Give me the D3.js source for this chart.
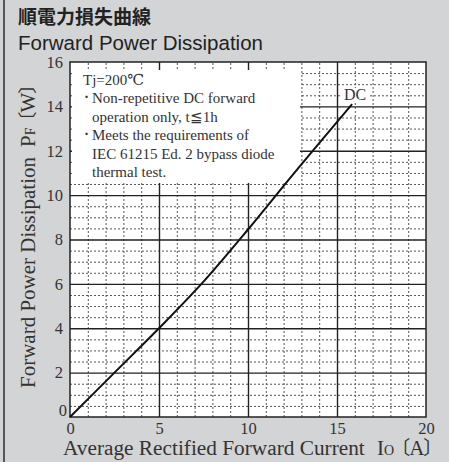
<!DOCTYPE html>
<html>
<head>
<meta charset="utf-8">
<script src="https://cdn.jsdelivr.net/npm/d3@7"></script>
<style>
  body { margin: 0; background: #d3d4d6; }
  svg { display: block; }
</style>
</head>
<body>
<div id="plot"></div>
<script>
// forward current Io [A] vs forward power dissipation PF [W], DC curve
var current = [0, 2.5, 5, 7.5, 10, 12.5, 15.85];
var power = [0, 2, 4, 6.1, 8.45, 10.9, 14.1];
var xTicks = [0, 5, 10, 15, 20];
var yTicks = [0, 2, 4, 6, 8, 10, 12, 14, 16];
var legendLines = ["Tj=200\u2103", "Non-repetitive DC forward", "operation only, t\u22661h", "Meets the requirements of", "IEC 61215 Ed. 2 bypass diode", "thermal test."];
var bullets = [false, true, false, true, false, false];

var w = 449, h = 462;
var padL = 70, padR = 426, padT = 62, padB = 417;
var serif = "'Liberation Serif', 'DejaVu Serif', serif";
var cjk = "'Noto Sans CJK JP', sans-serif";

var svg = d3.select("#plot")
    .append("svg")
    .attr("width", w)
    .attr("height", h);

svg.append("rect").attr("width", w).attr("height", h).attr("fill", "#d3d4d6");
svg.append("line").attr("x1", 4).attr("x2", 4).attr("y1", 0).attr("y2", h)
    .attr("stroke", "#555").attr("stroke-width", 2);

// titles
svg.append("text").attr("x", 18).attr("y", 24)
    .attr("font-family", cjk).attr("font-weight", "bold")
    .attr("font-size", 19).attr("fill", "#222").text("順電力損失曲線");
svg.append("text").attr("x", 18).attr("y", 50)
    .attr("font-family", "'Liberation Sans', Arial, sans-serif")
    .attr("font-size", 20.5).attr("fill", "#222").text("Forward Power Dissipation");

var xScale = d3.scaleLinear().domain([0, 20]).range([padL, padR]);
var yScale = d3.scaleLinear().domain([0, 16]).range([padB, padT]);

svg.append("rect").attr("x", padL).attr("y", padT)
    .attr("width", padR - padL).attr("height", padB - padT).attr("fill", "#fff");

// minor grid
var minorX = d3.range(1, 20).filter(function (d) { return d % 5 != 0; });
var minorY = d3.range(0.5, 16, 0.5).filter(function (d) { return d % 2 != 0; });

svg.append("g").attr("class", "grid")
    .attr("transform", "translate(0," + padB + ")")
    .call(d3.axisBottom(xScale).tickValues(minorX).tickSize(-(padB - padT)).tickFormat(""))
    .call(function (g) { g.select(".domain").remove(); })
    .selectAll("line").attr("stroke", "#555").attr("stroke-dasharray", "2,2");

svg.append("g").attr("class", "grid")
    .attr("transform", "translate(" + padL + ",0)")
    .call(d3.axisLeft(yScale).tickValues(minorY).tickSize(-(padR - padL)).tickFormat(""))
    .call(function (g) { g.select(".domain").remove(); })
    .selectAll("line").attr("stroke", "#555").attr("stroke-dasharray", "2,2");

// major grid
svg.append("g")
    .attr("transform", "translate(0," + padB + ")")
    .call(d3.axisBottom(xScale).tickValues([5, 10, 15]).tickSize(-(padB - padT)).tickFormat(""))
    .call(function (g) { g.select(".domain").remove(); })
    .selectAll("line").attr("stroke", "#222").attr("stroke-width", 1.4);

svg.append("g")
    .attr("transform", "translate(" + padL + ",0)")
    .call(d3.axisLeft(yScale).tickValues([2, 4, 6, 8, 10, 12, 14]).tickSize(-(padR - padL)).tickFormat(""))
    .call(function (g) { g.select(".domain").remove(); })
    .selectAll("line").attr("stroke", "#222").attr("stroke-width", 1.4);

// legend box hides grid
svg.append("rect").attr("x", 72).attr("y", 70).attr("width", 228).attr("height", 113).attr("fill", "#fff");

var legend = svg.append("g").attr("font-family", serif).attr("font-size", 15).attr("fill", "#333");
legendLines.forEach(function (t, i) {
    var y = 85 + i * 18.4;
    legend.append("text").attr("x", i == 0 ? 83 : 92).attr("y", y).text(t);
    if (bullets[i]) legend.append("text").attr("x", 84).attr("y", y - 1).text("\u00b7").attr("font-weight", "bold");
});

// border
svg.append("rect").attr("x", padL).attr("y", padT)
    .attr("width", padR - padL).attr("height", padB - padT)
    .attr("fill", "none").attr("stroke", "#222").attr("stroke-width", 1.5);

// curve
var line = d3.line()
    .x(function (d, i) { return xScale(current[i]); })
    .y(function (d, i) { return yScale(power[i]); })
    .curve(d3.curveMonotoneX);

svg.append("path").datum(power)
    .attr("d", line)
    .attr("fill", "none").attr("stroke", "#111").attr("stroke-width", 2);

// DC label
svg.append("rect").attr("x", 342).attr("y", 88).attr("width", 27).attr("height", 14).attr("fill", "#fff");
svg.append("text").attr("x", 344).attr("y", 100)
    .attr("font-family", serif).attr("font-size", 16).attr("fill", "#333").text("DC");

// tick labels
var xAxis = svg.append("g")
    .attr("transform", "translate(0," + padB + ")")
    .call(d3.axisBottom(xScale).tickValues(xTicks).tickSize(0).tickPadding(5));
xAxis.select(".domain").remove();
xAxis.selectAll("text").attr("font-family", serif).attr("font-size", 16.5).attr("fill", "#333");

var yAxis = svg.append("g")
    .attr("transform", "translate(" + padL + ",0)")
    .call(d3.axisLeft(yScale).tickValues(yTicks).tickSize(0).tickPadding(7));
yAxis.select(".domain").remove();
yAxis.selectAll("text").attr("font-family", serif).attr("font-size", 16.5).attr("fill", "#333");
yAxis.selectAll(".tick").filter(function (d) { return d == 0; })
    .select("text").attr("dy", "-0.1em").attr("x", -3);

// axis titles
svg.append("text").attr("x", 63).attr("y", 455)
    .attr("font-family", serif).attr("font-size", 21.3).attr("fill", "#333")
    .text("Average Rectified Forward Current");
var xu = svg.append("text").attr("x", 377).attr("y", 455)
    .attr("font-family", serif).attr("font-size", 21).attr("fill", "#333");
xu.append("tspan").text("I");
xu.append("tspan").attr("font-size", 14).text("O");
xu.append("tspan").attr("font-family", cjk).attr("font-size", 19).attr("dx", -3).text("\u3014");
xu.append("tspan").attr("dx", -1).text("A");
xu.append("tspan").attr("font-family", cjk).attr("font-size", 19).attr("dx", -1).text("\u3015");

svg.append("text")
    .attr("transform", "translate(35,388) rotate(-90)")
    .attr("font-family", serif).attr("font-size", 21).attr("fill", "#333")
    .text("Forward Power Dissipation");
var yu = svg.append("text")
    .attr("transform", "translate(35,147) rotate(-90)")
    .attr("font-family", serif).attr("font-size", 21).attr("fill", "#333");
yu.append("tspan").text("P");
yu.append("tspan").attr("font-size", 14).text("F");
yu.append("tspan").attr("font-family", cjk).attr("font-size", 19).attr("dx", -3).text("\u3014");
yu.append("tspan").attr("dx", -1).text("W");
yu.append("tspan").attr("font-family", cjk).attr("font-size", 19).attr("dx", -1).text("\u3015");
</script>
</body>
</html>
